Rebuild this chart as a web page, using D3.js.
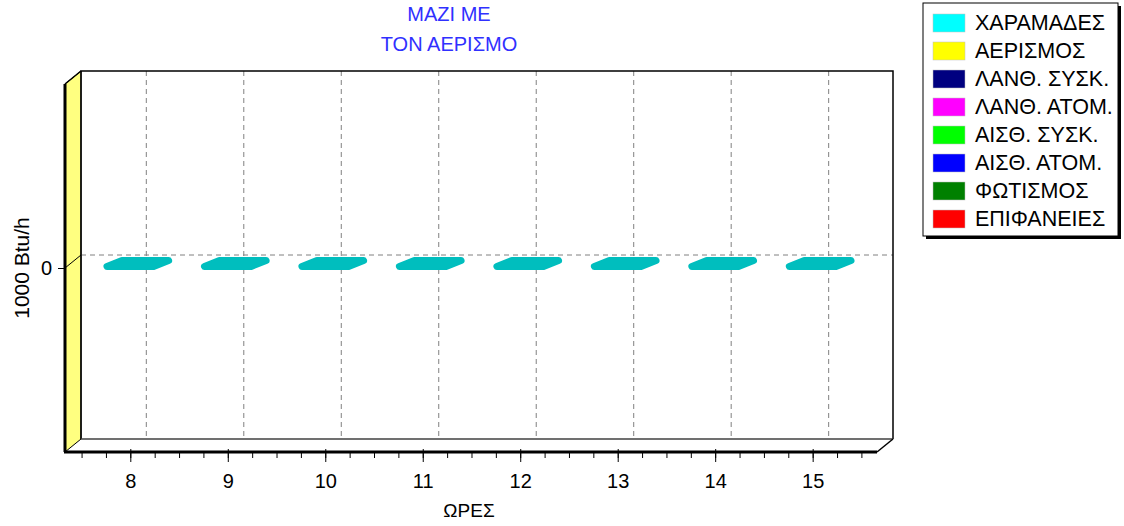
<!DOCTYPE html>
<html>
<head>
<meta charset="utf-8">
<script src="https://cdn.jsdelivr.net/npm/d3@7"></script>
<style>
  body { margin: 0; background: #fff; }
  svg { display: block; font-family: "Liberation Sans", Arial, sans-serif; }
</style>
</head>
<body>
<div id="chart"></div>
<script>
'use strict';

// hours on the x axis
const hours = [8, 9, 10, 11, 12, 13, 14, 15];

// series (all loads are zero for this case)
const seriesNames = ['ΧΑΡΑΜΑΔΕΣ', 'ΑΕΡΙΣΜΟΣ', 'ΛΑΝΘ. ΣΥΣΚ.', 'ΛΑΝΘ. ΑΤΟΜ.',
                     'ΑΙΣΘ. ΣΥΣΚ.', 'ΑΙΣΘ. ΑΤΟΜ.', 'ΦΩΤΙΣΜΟΣ', 'ΕΠΙΦΑΝΕΙΕΣ'];
const seriesColors = ['#00ffff', '#ffff00', '#000080', '#ff00ff',
                      '#00ff00', '#0000ff', '#008000', '#ff0000'];
const charamades  = [0, 0, 0, 0, 0, 0, 0, 0];
const aerismos    = [0, 0, 0, 0, 0, 0, 0, 0];
const lanthSysk   = [0, 0, 0, 0, 0, 0, 0, 0];
const lanthAtom   = [0, 0, 0, 0, 0, 0, 0, 0];
const aisthSysk   = [0, 0, 0, 0, 0, 0, 0, 0];
const aisthAtom   = [0, 0, 0, 0, 0, 0, 0, 0];
const fotismos    = [0, 0, 0, 0, 0, 0, 0, 0];
const epifaneies  = [0, 0, 0, 0, 0, 0, 0, 0];
const seriesValues = [charamades, aerismos, lanthSysk, lanthAtom,
                      aisthSysk, aisthAtom, fotismos, epifaneies];

const yTicks = [0];
const titleLines = ['ΜΑΖΙ ΜΕ', 'ΤΟΝ ΑΕΡΙΣΜΟ'];

const W = 1124, H = 526;
// front plane and 3D depth offset
const front = {left: 65, right: 877, top: 84, bottom: 452};
const depth = {dx: 16, dy: -13};

const svg = d3.select('#chart').append('svg')
    .attr('width', W).attr('height', H);

const x = d3.scaleLinear().domain([7.33, 15.66]).range([front.left, front.right]);
const y = d3.scaleLinear().domain([-1, 1]).range([front.bottom, front.top]);

const bx = v => x(v) + depth.dx;           // back plane x
const by = v => y(v) + depth.dy;           // back plane y

const backL = front.left + depth.dx, backR = front.right + depth.dx;
const backT = front.top + depth.dy, backB = front.bottom + depth.dy;

// back wall
svg.append('rect')
    .attr('x', backL).attr('y', backT)
    .attr('width', backR - backL).attr('height', backB - backT)
    .attr('fill', '#fff');

// floor
svg.append('path')
    .attr('d', `M${front.left},${front.bottom}L${backL},${backB}L${backR},${backB}L${front.right},${front.bottom}Z`)
    .attr('fill', '#fff');

// left wall (yellow)
svg.append('path')
    .attr('d', `M${front.left},${front.top}L${backL},${backT}L${backL},${backB}L${front.left},${front.bottom}Z`)
    .attr('fill', '#ffff80')
    .attr('stroke', '#000').attr('stroke-width', 1);

// vertical grid lines on back wall
svg.append('g').selectAll('line')
  .data(hours)
  .join('line')
    .attr('x1', d => bx(d)).attr('x2', d => bx(d))
    .attr('y1', backT).attr('y2', backB)
    .attr('stroke', '#808080')
    .attr('stroke-dasharray', '5,4');

// horizontal grid lines on back wall
svg.append('g').selectAll('line')
  .data(yTicks)
  .join('line')
    .attr('x1', backL).attr('x2', backR)
    .attr('y1', d => by(d)).attr('y2', d => by(d))
    .attr('stroke', '#808080')
    .attr('stroke-dasharray', '5,4');

// back wall border
svg.append('path')
    .attr('d', `M${backL},${backB}L${backL},${backT}L${backR},${backT}L${backR},${backB}`)
    .attr('fill', 'none').attr('stroke', '#000').attr('stroke-width', 1.5);
svg.append('line')
    .attr('x1', backL).attr('x2', backR).attr('y1', backB).attr('y2', backB)
    .attr('stroke', '#404040').attr('stroke-width', 1.5);
svg.append('line')
    .attr('x1', front.right).attr('y1', front.bottom)
    .attr('x2', backR).attr('y2', backB)
    .attr('stroke', '#000').attr('stroke-width', 1.5);
svg.append('line')
    .attr('x1', front.left).attr('y1', front.top)
    .attr('x2', backL).attr('y2', backT)
    .attr('stroke', '#000').attr('stroke-width', 1.5);

// stacked zero-height bars: only the flat top of each stack shows
const halfW = 0.27;
const stackTops = hours.map((h, i) => ({
    hour: h,
    total: d3.sum(seriesValues, s => s[i])
}));
svg.append('g').selectAll('path')
  .data(stackTops)
  .join('path')
    .attr('d', d => {
        const x0 = x(d.hour - halfW) + 3, x1 = x(d.hour + halfW) - 3;
        const yf = y(d.total) - 1.5, yb = yf - 6;
        return `M${x0},${yf}L${x1},${yf}L${x1 + 15},${yb}L${x0 + 15},${yb}Z`;
    })
    .attr('fill', '#00bebe')
    .attr('stroke', '#00bebe')
    .attr('stroke-width', 7)
    .attr('stroke-linejoin', 'round');

// front x axis: major and minor ticks
const xAxisG = svg.append('g')
    .attr('transform', `translate(0,${front.bottom})`);
xAxisG.append('g')
    .call(d3.axisBottom(x).tickValues(d3.range(7.5, 15.6, 0.25)).tickSize(6).tickFormat(''))
    .call(g => g.select('.domain').remove())
    .call(g => g.selectAll('line').attr('stroke', '#000'));
xAxisG.append('g')
    .call(d3.axisBottom(x).tickValues(hours).tickSize(10).tickPadding(12))
    .call(g => g.select('.domain').remove())
    .call(g => g.selectAll('line').attr('stroke', '#000').attr('y1', -3))
    .call(g => g.selectAll('text')
        .attr('font-size', 20)
        .attr('font-family', '"Liberation Sans", Arial, sans-serif')
        .attr('fill', '#000'));
svg.append('line')
    .attr('x1', front.left - 1).attr('x2', front.right)
    .attr('y1', front.bottom).attr('y2', front.bottom)
    .attr('stroke', '#000').attr('stroke-width', 3);
svg.append('line')
    .attr('x1', front.left).attr('x2', front.left)
    .attr('y1', front.top).attr('y2', front.bottom)
    .attr('stroke', '#000').attr('stroke-width', 3);

// front y axis
svg.append('g')
    .attr('transform', `translate(${front.left},0)`)
    .call(d3.axisLeft(y).tickValues(yTicks).tickFormat(d3.format('d')).tickSize(7).tickPadding(6))
    .call(g => g.select('.domain').remove())
    .call(g => g.selectAll('line').attr('stroke', '#000'))
    .call(g => g.selectAll('text')
        .attr('font-size', 20)
        .attr('font-family', '"Liberation Sans", Arial, sans-serif')
        .attr('fill', '#000'));
svg.append('g').selectAll('line')
  .data(yTicks)
  .join('line')
    .attr('x1', front.left).attr('y1', d => y(d))
    .attr('x2', backL).attr('y2', d => by(d))
    .attr('stroke', '#000');

// title
svg.append('g').selectAll('text')
  .data(titleLines)
  .join('text')
    .attr('x', 449)
    .attr('y', (d, i) => 21 + i * 30)
    .attr('text-anchor', 'middle')
    .attr('font-size', 20)
    .attr('fill', '#3030ff')
    .text(d => d);

// axis labels
svg.append('text')
    .attr('x', 469).attr('y', 517)
    .attr('text-anchor', 'middle')
    .attr('font-size', 19)
    .text('ΩΡΕΣ');
svg.append('text')
    .attr('transform', 'translate(29,268) rotate(-90)')
    .attr('text-anchor', 'middle')
    .attr('font-size', 21)
    .text('1000 Btu/h');

// legend
const legend = svg.append('g');
legend.append('rect')
    .attr('x', 926).attr('y', 6).attr('width', 195).attr('height', 233)
    .attr('fill', '#000');
legend.append('rect')
    .attr('x', 923).attr('y', 3).attr('width', 195).attr('height', 233)
    .attr('fill', '#fff').attr('stroke', '#000').attr('stroke-width', 1);
const items = legend.selectAll('g.item')
  .data(seriesNames)
  .join('g')
    .attr('class', 'item')
    .attr('transform', (d, i) => `translate(933,${14 + i * 28})`);
items.append('rect')
    .attr('width', 32).attr('height', 18)
    .attr('fill', (d, i) => seriesColors[i])
    .attr('stroke', '#c0c0c0').attr('stroke-width', 0.5);
items.append('text')
    .attr('x', 42).attr('y', 16)
    .attr('font-size', 21.5)
    .text(d => d);
</script>
</body>
</html>
